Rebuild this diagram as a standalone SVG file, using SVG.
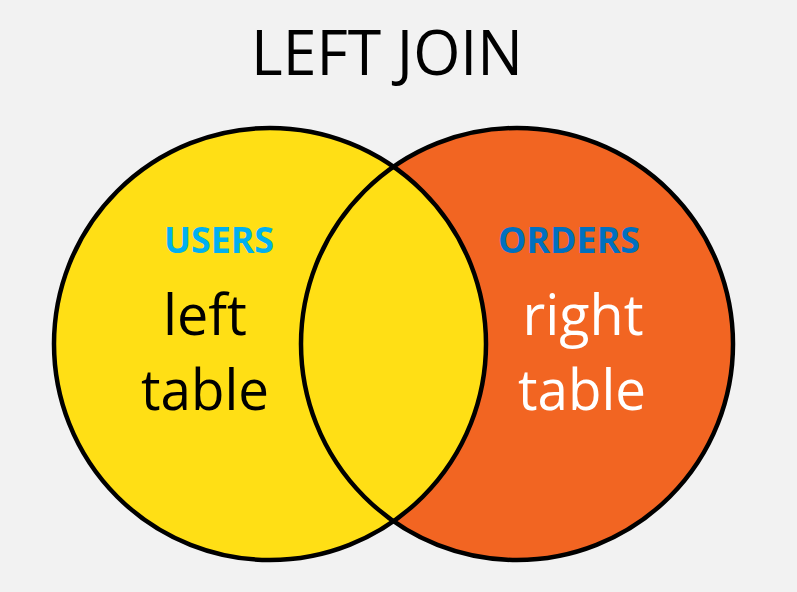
<svg xmlns="http://www.w3.org/2000/svg" width="797" height="592" viewBox="0 0 797 592">
  <style>
    .title { font-family: "Open Sans", "Noto Sans", "DejaVu Sans", sans-serif; font-size: 62px; fill: #000; text-anchor: middle; }
    .head { font-family: "Open Sans", "Noto Sans", sans-serif; font-size: 35px; font-weight: bold; text-anchor: middle; }
    .big { font-family: "Open Sans", "Noto Sans", sans-serif; font-size: 56px; text-anchor: middle; }
    .ring { fill: none; stroke: #000; stroke-width: 4.5; }
  </style>
  <rect width="797" height="592" fill="#f2f2f2"/>
  <g id="title">
    <text class="title" x="387" y="75" textLength="272" lengthAdjust="spacingAndGlyphs">LEFT JOIN</text>
  </g>
  <g id="right-table">
    <circle cx="517" cy="344" r="216" fill="#f26522"/>
  </g>
  <g id="left-table">
    <circle cx="270" cy="344" r="216" fill="#ffdf15"/>
  </g>
  <g id="outlines">
    <circle class="ring" cx="270" cy="344" r="216"/>
    <circle class="ring" cx="517" cy="344" r="216"/>
  </g>
  <g id="left-labels">
    <text class="head" x="219" y="253" fill="#00b0f0" textLength="110" lengthAdjust="spacingAndGlyphs">USERS</text>
    <text class="big" x="205" y="335" fill="#000" textLength="84" lengthAdjust="spacingAndGlyphs">left</text>
    <text class="big" x="205" y="410" fill="#000" textLength="128" lengthAdjust="spacingAndGlyphs">table</text>
  </g>
  <g id="right-labels">
    <text class="head" x="569" y="253" fill="#0070c0" textLength="142" lengthAdjust="spacingAndGlyphs">ORDERS</text>
    <text class="big" x="583" y="335" fill="#fff" textLength="121" lengthAdjust="spacingAndGlyphs">right</text>
    <text class="big" x="582" y="410" fill="#fff" textLength="128" lengthAdjust="spacingAndGlyphs">table</text>
  </g>
  <g id="connectors"/>
</svg>
